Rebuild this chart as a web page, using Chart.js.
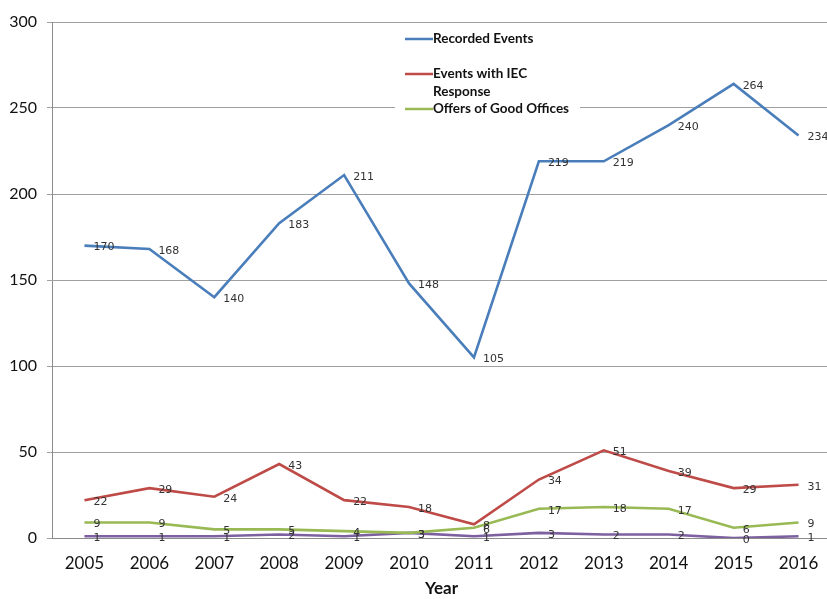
<!DOCTYPE html>
<html>
<head>
<meta charset="utf-8">
<script src="https://cdn.jsdelivr.net/npm/chart.js@4.4.1/dist/chart.umd.min.js"></script>
<style>
  html, body { margin: 0; padding: 0; background: #fff; overflow: hidden; }
  #wrap { position: absolute; left: 0; top: 0; width: 840px; height: 599px; }
</style>
</head>
<body>
<div id="wrap"><canvas id="chart"></canvas></div>
<script>
  // data
  var YEARS = ['2005','2006','2007','2008','2009','2010','2011','2012','2013','2014','2015','2016'];
  var RECORDED = [170, 168, 140, 183, 211, 148, 105, 219, 219, 240, 264, 234];
  var IEC_RESPONSE = [22, 29, 24, 43, 22, 18, 8, 34, 51, 39, 29, 31];
  var GOOD_OFFICES = [9, 9, 5, 5, 4, 3, 6, 17, 18, 17, 6, 9];
  var FOURTH = [1, 1, 1, 2, 1, 3, 1, 3, 2, 2, 0, 1];
  var Y_TICKS = [0, 50, 100, 150, 200, 250, 300];

  var FONT = "Lato, 'Open Sans', sans-serif";

  /* value labels to the right of each point */
  var valueLabels = {
    id: 'valueLabels',
    afterDatasetsDraw: function (chart) {
      var ctx = chart.ctx;
      ctx.save();
      ctx.font = "11px 'DejaVu Sans', sans-serif";
      ctx.fillStyle = '#333';
      ctx.textAlign = 'left';
      ctx.textBaseline = 'middle';
      chart.data.datasets.forEach(function (ds, i) {
        chart.getDatasetMeta(i).data.forEach(function (pt, j) {
          ctx.fillText(String(ds.data[j]), pt.x + 9, pt.y + 2);
        });
      });
      ctx.restore();
    }
  };

  /* Excel-style legend inside the plot */
  var boxLegend = {
    id: 'boxLegend',
    afterDraw: function (chart) {
      var ctx = chart.ctx;
      ctx.save();
      ctx.fillStyle = '#fff';
      ctx.fillRect(395, 26, 185, 92);
      ctx.font = 'bold 13.5px ' + FONT;
      ctx.textBaseline = 'middle';
      chart.data.datasets.forEach(function (ds, i) {
        if (ds.hideLegend) return;
        var y = 39 + i * 35;
        ctx.strokeStyle = ds.borderColor;
        ctx.lineWidth = 2.5;
        ctx.beginPath(); ctx.moveTo(405, y); ctx.lineTo(433, y); ctx.stroke();
        ctx.fillStyle = '#111';
        // wrap long labels like Excel does
        var words = ds.label.split(' '), line = '', ly = y;
        words.forEach(function (w) {
          var test = line ? line + ' ' + w : w;
          if (ctx.measureText(test).width > 145 && line) {
            ctx.fillText(line, 433, ly); line = w; ly += 18;
          } else { line = test; }
        });
        ctx.fillText(line, 433, ly);
      });
      ctx.restore();
    }
  };

  function series(label, data, color, hide) {
    return { label: label, data: data, borderColor: color, backgroundColor: color,
      borderWidth: 2.6, pointRadius: 0, tension: 0, hideLegend: !!hide };
  }

  new Chart(document.getElementById('chart'), {
    type: 'line',
    data: {
      labels: YEARS,
      datasets: [
        series('Recorded Events', RECORDED, '#4a7ebb'),
        series('Events with IEC Response', IEC_RESPONSE, '#be4b48'),
        series('Offers of Good Offices', GOOD_OFFICES, '#98b954'),
        series('Other', FOURTH, '#7d60a0', true)
      ]
    },
    options: {
      responsive: true, maintainAspectRatio: false, animation: false,
      layout: { padding: { top: 22, right: 9, left: 0, bottom: 0 } },
      plugins: { legend: { display: false }, tooltip: { enabled: false } },
      scales: {
        x: {
          offset: true,
          grid: { display: false, drawTicks: false },
          border: { display: true, color: '#8a8a8a', width: 1 },
          ticks: { color: '#111', font: { family: FONT, size: 17 }, padding: 15, maxRotation: 0 },
          title: { display: true, text: 'Year', color: '#111', font: { family: FONT, size: 17, weight: 'bold' }, padding: 0 },
          afterFit: function (s) { s.height = 61; }
        },
        y: {
          min: 0, max: 300,
          afterBuildTicks: function (s) { s.ticks = Y_TICKS.map(function (v) { return { value: v }; }); },
          grid: { color: '#a0a0a0', lineWidth: 1, tickLength: 5 },
          border: { display: true, color: '#8a8a8a', width: 1 },
          ticks: { color: '#111', font: { family: FONT, size: 16 }, padding: 10 },
          afterFit: function (s) { s.width = 52; }
        }
      }
    },
    plugins: [valueLabels, boxLegend]
  });
</script>
</body>
</html>
